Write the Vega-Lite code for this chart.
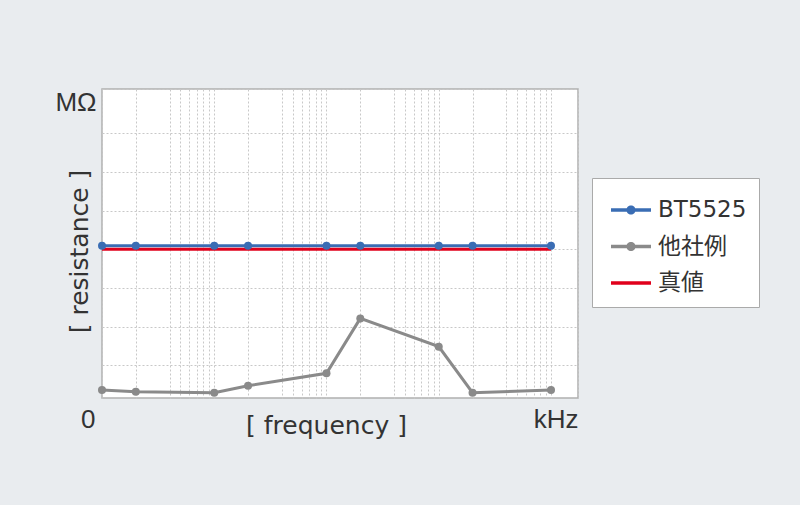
{
  "$schema": "https://vega.github.io/schema/vega-lite/v6.json",
  "width": 476,
  "height": 309,
  "autosize": "none",
  "padding": {"left": 102, "top": 89, "right": 222, "bottom": 107},
  "background": "#e9ecef",
  "view": {"fill": "white", "stroke": "#b0b0b0", "strokeWidth": 1.5},
  "config": {
    "axis": {
      "domain": false,
      "ticks": false,
      "gridColor": "#c8c8c8",
      "gridDash": [2, 2],
      "gridWidth": 1,
      "labelColor": "#333333",
      "titleColor": "#333333",
      "labelFont": "Liberation Sans",
      "titleFont": "DejaVu Sans",
      "titleFontWeight": "normal",
      "labelFontSize": 26,
      "titleFontSize": 25,
      "labelOverlap": false,
      "labelBound": false,
      "labelFlush": false
    },
    "legend": {
      "orient": "none",
      "legendX": 490,
      "legendY": 89,
      "fillColor": "white",
      "strokeColor": "#aaaaaa",
      "padding": 12,
      "symbolOffset": 7,
      "labelFont": "DejaVu Sans, Noto Sans CJK JP",
      "labelFontSize": 23,
      "labelColor": "#333333",
      "labelOffset": 7,
      "rowPadding": 4.5,
      "symbolSize": 1600,
      "symbolStrokeWidth": 0
    }
  },
  "data": {
    "values": [
      {"f": 1, "r": 3.94, "s": "BT5525"},
      {"f": 2, "r": 3.94, "s": "BT5525"},
      {"f": 10, "r": 3.94, "s": "BT5525"},
      {"f": 20, "r": 3.94, "s": "BT5525"},
      {"f": 100, "r": 3.94, "s": "BT5525"},
      {"f": 200, "r": 3.94, "s": "BT5525"},
      {"f": 1000, "r": 3.94, "s": "BT5525"},
      {"f": 2000, "r": 3.94, "s": "BT5525"},
      {"f": 10000, "r": 3.94, "s": "BT5525"},
      {"f": 1, "r": 0.207, "s": "他社例"},
      {"f": 2, "r": 0.163, "s": "他社例"},
      {"f": 10, "r": 0.137, "s": "他社例"},
      {"f": 20, "r": 0.318, "s": "他社例"},
      {"f": 100, "r": 0.64, "s": "他社例"},
      {"f": 200, "r": 2.06, "s": "他社例"},
      {"f": 1000, "r": 1.33, "s": "他社例"},
      {"f": 2000, "r": 0.137, "s": "他社例"},
      {"f": 10000, "r": 0.207, "s": "他社例"},
      {"f": 1, "r": 3.85, "s": "真値"},
      {"f": 10000, "r": 3.85, "s": "真値"}
    ]
  },
  "encoding": {
    "x": {
      "field": "f",
      "type": "quantitative",
      "scale": {"type": "log", "domain": [1, 17400], "nice": false},
      "axis": {
        "values": [1, 2, 4, 5, 6, 7, 8, 9, 10, 20, 40, 50, 60, 70, 80, 90, 100, 200, 400, 500, 600, 700, 800, 900, 1000, 2000, 4000, 5000, 6000, 7000, 8000, 9000, 10000, 17400],
        "labelExpr": "datum.value == 1 ? '0' : (datum.value > 15000 ? 'kHz' : '')",
        "labelAlign": "right",
        "labelBaseline": "top",
        "labelPadding": 8,
        "labelOffset": {"condition": {"test": "datum.value == 1", "value": -7}, "value": 0},
        "title": "[ frequency ]",
        "titleX": 224,
        "titleY": 35,
        "titleAlign": "center",
        "titleBaseline": "alphabetic"
      }
    },
    "y": {
      "field": "r",
      "type": "quantitative",
      "scale": {"domain": [0, 8], "nice": false, "zero": false},
      "axis": {
        "values": [0.85, 1.85, 2.85, 3.85, 4.85, 5.85, 6.85, 8],
        "labelExpr": "datum.value == 8 ? 'MΩ' : ''",
        "labelBaseline": "top",
        "labelPadding": 6,
        "title": "[ resistance ]",
        "titleAngle": -90,
        "titleX": -15,
        "titleY": 162,
        "titleAlign": "center",
        "titleBaseline": "alphabetic"
      }
    },
    "color": {
      "field": "s",
      "type": "nominal",
      "scale": {"domain": ["BT5525", "他社例", "真値"], "range": ["#3a6db4", "#8a8a8a", "#e0001b"]},
      "legend": {
        "title": null,
        "encode": {
          "symbols": {
            "update": {
              "shape": {"signal": "datum.value == '真値' ? 'M-1,-0.085H1V0.085H-1Z' : 'M-1,-0.085H1V0.085H-1Z M-0.23,0A0.23,0.23,0,1,1,0.23,0A0.23,0.23,0,1,1,-0.23,0Z'"},
              "fill": {"scale": "color", "field": "value"},
              "stroke": {"value": "transparent"},
              "opacity": {"value": 1}
            }
          }
        }
      }
    }
  },
  "layer": [
    {"mark": {"type": "line", "strokeWidth": 3}},
    {
      "transform": [{"filter": "datum.s != '真値'"}],
      "mark": {"type": "point", "filled": true, "size": 64, "opacity": 1}
    }
  ]
}
